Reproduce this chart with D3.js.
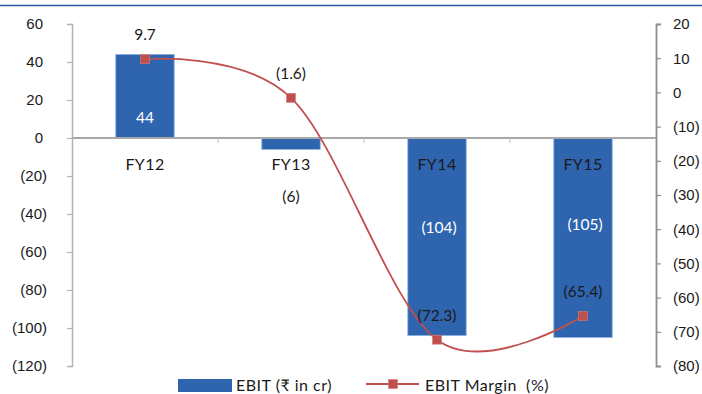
<!DOCTYPE html>
<html>
<head>
<meta charset="utf-8">
<script src="https://cdn.jsdelivr.net/npm/d3@7"></script>
<style>
  html, body { margin: 0; padding: 0; background: #fff; }
  svg { display: block; font-family: "Lato", "Noto Sans", "DejaVu Sans", sans-serif; }
  text { white-space: pre; }
</style>
</head>
<body>
<svg id="chart" width="702" height="394"></svg>
<script>
// EBIT (₹ in cr) and EBIT margin (%) by fiscal year
const categories = ["FY12", "FY13", "FY14", "FY15"];
const ebit = [44, -6, -104, -105];
const ebitMargin = [9.7, -1.6, -72.3, -65.4];
const leftTicks = [60, 40, 20, 0, -20, -40, -60, -80, -100, -120];
const rightTicks = [20, 10, 0, -10, -20, -30, -40, -50, -60, -70, -80];
const seriesNames = ["EBIT (₹ in cr)", "EBIT Margin  (%)"];

const svg = d3.select("#chart");
const W = 702;
const plot = { left: 72, right: 656, top: 24, bottom: 366 };

const barColor = "#2F64AF";
const barEdge = "#8FB2E0";
const lineColor = "#C0504D";
const textColor = "#1a1a1a";

const x = d3.scaleBand().domain(categories).range([plot.left, plot.right]).padding(0);
const yL = d3.scaleLinear().domain([-120, 60]).range([plot.bottom, plot.top]);
const yR = d3.scaleLinear().domain([-80, 20]).range([plot.bottom, plot.top]);

// accounting style: negatives in parentheses, positives padded like ")"
const acct = v => v < 0 ? `(${d3.format(",")(-v)})` : d3.format(",")(v);

// thin rule at the top of the page
svg.append("line")
  .attr("x1", 0).attr("x2", W).attr("y1", 5.5).attr("y2", 5.5)
  .attr("stroke", "#1F58A3").attr("stroke-width", 1.5);

// left axis
const gL = svg.append("g").attr("transform", `translate(${plot.left},0)`)
  .call(d3.axisLeft(yL).tickValues(leftTicks).tickSize(5).tickSizeOuter(5).tickPadding(20).tickFormat(acct));
gL.select(".domain").attr("stroke", "#B4B4B4").attr("stroke-width", 1.5);
gL.selectAll(".tick line").attr("stroke", "#B4B4B4").attr("stroke-width", 1.2);
gL.selectAll(".tick text")
  .attr("font-size", 15).attr("fill", textColor)
  .attr("dx", d => d < 0 ? 0 : -4);

// right axis
const gR = svg.append("g").attr("transform", `translate(${plot.right},0)`)
  .call(d3.axisRight(yR).tickValues(rightTicks).tickSize(5).tickSizeOuter(5).tickPadding(12).tickFormat(acct));
gR.select(".domain").attr("stroke", "#8E8E8E").attr("stroke-width", 1.8);
gR.selectAll(".tick line").attr("stroke", "#8E8E8E").attr("stroke-width", 1.2);
gR.selectAll(".tick text").attr("font-size", 15).attr("fill", textColor);

// bars
const barW = x.bandwidth() * 0.4;
svg.append("g").selectAll("rect").data(ebit).join("rect")
  .attr("x", (d, i) => x(categories[i]) + (x.bandwidth() - barW) / 2)
  .attr("y", d => yL(Math.max(0, d)))
  .attr("width", barW)
  .attr("height", d => Math.abs(yL(d) - yL(0)))
  .attr("fill", barColor)
  .attr("stroke", barEdge).attr("stroke-width", 0.8);

// zero line and category ticks
svg.append("line")
  .attr("x1", plot.left).attr("x2", plot.right)
  .attr("y1", yL(0)).attr("y2", yL(0))
  .attr("stroke", "#A8A8A8").attr("stroke-width", 2);
svg.append("g").selectAll("line").data(categories.slice(1)).join("line")
  .attr("x1", d => x(d)).attr("x2", d => x(d))
  .attr("y1", yL(0)).attr("y2", yL(0) + 5)
  .attr("stroke", "#C8C8C8").attr("stroke-width", 1.2);

// category labels
svg.append("g").selectAll("text").data(categories).join("text")
  .attr("x", d => x(d) + x.bandwidth() / 2)
  .attr("y", yL(0) + 25)
  .attr("text-anchor", "middle")
  .attr("dominant-baseline", "central")
  .attr("font-size", 16).attr("letter-spacing", 0.4).attr("fill", textColor)
  .text(d => d);

// EBIT value labels (offset from the zero line)
const barLabelDy = [-21, 58, 89, 86];
const barLabelDx = [0, 0, 2, 2];
svg.append("g").selectAll("text").data(ebit).join("text")
  .attr("x", (d, i) => x(categories[i]) + x.bandwidth() / 2 + barLabelDx[i])
  .attr("y", (d, i) => yL(0) + barLabelDy[i])
  .attr("text-anchor", "middle")
  .attr("dominant-baseline", "central")
  .attr("font-size", 15.5)
  .attr("fill", d => Math.abs(d) > 20 ? "#ffffff" : textColor)
  .text(d => acct(d));

// margin line (smoothed)
const pts = ebitMargin.map((v, i) => [x(categories[i]) + x.bandwidth() / 2, yR(v)]);
svg.append("path")
  .attr("d", d3.line().curve(d3.curveCardinal.tension(0))(pts))
  .attr("fill", "none").attr("stroke", lineColor).attr("stroke-width", 1.8);
svg.append("g").selectAll("rect").data(pts).join("rect")
  .attr("x", d => d[0] - 4.5).attr("y", d => d[1] - 4.5)
  .attr("width", 9).attr("height", 9)
  .attr("fill", lineColor).attr("stroke", "#D57A77").attr("stroke-width", 0.6);

// margin labels
svg.append("g").selectAll("text").data(ebitMargin).join("text")
  .attr("x", (d, i) => x(categories[i]) + x.bandwidth() / 2)
  .attr("y", d => yR(d) - 25)
  .attr("text-anchor", "middle")
  .attr("dominant-baseline", "central")
  .attr("font-size", 15.5).attr("fill", textColor)
  .text(d => acct(d));

// legend
const lg = svg.append("g");
lg.append("rect").attr("x", 178).attr("y", 379).attr("width", 54).attr("height", 13).attr("fill", barColor);
lg.append("text").attr("x", 236).attr("y", 384).attr("dominant-baseline", "central")
  .attr("font-size", 16).attr("letter-spacing", 0.5).attr("fill", textColor).text(seriesNames[0]);
lg.append("line").attr("x1", 366).attr("x2", 419).attr("y1", 384).attr("y2", 384)
  .attr("stroke", lineColor).attr("stroke-width", 1.8);
lg.append("rect").attr("x", 388.5).attr("y", 379.5).attr("width", 9).attr("height", 9)
  .attr("fill", lineColor).attr("stroke", "#D57A77").attr("stroke-width", 0.6);
lg.append("text").attr("x", 425).attr("y", 384).attr("dominant-baseline", "central")
  .attr("font-size", 16).attr("letter-spacing", 0.5).attr("fill", textColor).text(seriesNames[1]);
</script>
</body>
</html>
